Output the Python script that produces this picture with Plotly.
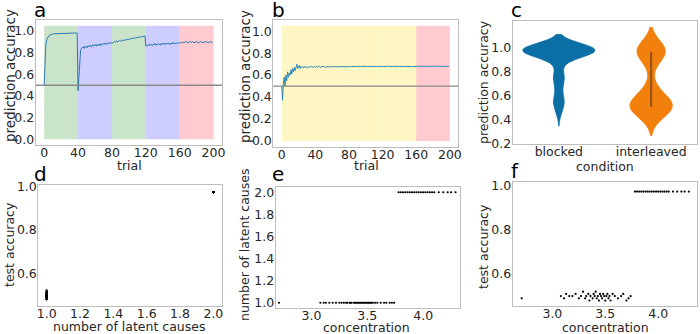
import plotly.graph_objects as go
import numpy as np

# ---------------- data ----------------
trials = list(range(200))

acc_blocked_curve = [
    0.50, 0.80, 0.88, 0.92, 0.94, 0.95, 0.96, 0.965, 0.97, 0.97,
    0.972, 0.975, 0.975, 0.976, 0.977, 0.977, 0.978, 0.978, 0.978, 0.979,
    0.979, 0.979, 0.98, 0.98, 0.98, 0.98, 0.98, 0.98, 0.98, 0.981,
    0.981, 0.981, 0.981, 0.981, 0.982, 0.982, 0.982, 0.982, 0.982, 0.982,
    0.45, 0.62, 0.76, 0.82, 0.84, 0.85, 0.855, 0.84, 0.86, 0.85,
    0.86, 0.845, 0.865, 0.855, 0.87, 0.86, 0.855, 0.875, 0.86, 0.87,
    0.865, 0.88, 0.86, 0.875, 0.87, 0.88, 0.865, 0.885, 0.875, 0.87,
    0.885, 0.88, 0.89, 0.875, 0.885, 0.89, 0.88, 0.895, 0.885, 0.89,
    0.895, 0.89, 0.90, 0.905, 0.895, 0.905, 0.91, 0.90, 0.91, 0.915,
    0.905, 0.915, 0.92, 0.91, 0.915, 0.92, 0.915, 0.92, 0.925, 0.92,
    0.925, 0.93, 0.925, 0.93, 0.935, 0.93, 0.935, 0.94, 0.935, 0.94,
    0.94, 0.945, 0.94, 0.945, 0.95, 0.945, 0.95, 0.95, 0.955, 0.955,
    0.86, 0.865, 0.87, 0.875, 0.865, 0.88, 0.87, 0.875, 0.865, 0.88,
    0.875, 0.885, 0.87, 0.88, 0.875, 0.885, 0.88, 0.87, 0.885, 0.875,
    0.89, 0.88, 0.885, 0.875, 0.89, 0.88, 0.885, 0.89, 0.875, 0.885,
    0.89, 0.88, 0.895, 0.885, 0.89, 0.88, 0.89, 0.885, 0.895, 0.89,
    0.885, 0.895, 0.89, 0.90, 0.895, 0.89, 0.90, 0.905, 0.895, 0.90,
    0.89, 0.895, 0.905, 0.90, 0.895, 0.905, 0.895, 0.89, 0.90, 0.895,
    0.905, 0.90, 0.89, 0.895, 0.90, 0.905, 0.895, 0.90, 0.89, 0.90,
    0.895, 0.905, 0.90, 0.895, 0.89, 0.90, 0.905, 0.895, 0.90, 0.895,
]

acc_interleaved_curve = [
    0.50, 0.37, 0.52, 0.58, 0.50, 0.60, 0.55, 0.63, 0.58, 0.62,
    0.60, 0.65, 0.61, 0.66, 0.63, 0.67, 0.64, 0.68, 0.70, 0.66,
    0.67, 0.69, 0.66, 0.68, 0.67, 0.675, 0.665, 0.68, 0.67, 0.675,
    0.668, 0.678, 0.67, 0.675, 0.672, 0.68, 0.672, 0.676, 0.67, 0.678,
    0.674, 0.679, 0.672, 0.677, 0.675, 0.68, 0.673, 0.678, 0.675, 0.679,
    0.674, 0.677, 0.672, 0.678, 0.676, 0.68, 0.674, 0.677, 0.675, 0.679,
    0.676, 0.678, 0.674, 0.679, 0.676, 0.68, 0.675, 0.678, 0.676, 0.679,
    0.675, 0.678, 0.677, 0.68, 0.675, 0.679, 0.677, 0.678, 0.676, 0.68,
    0.677, 0.679, 0.676, 0.68, 0.677, 0.679, 0.678, 0.681, 0.677, 0.679,
    0.678, 0.68, 0.677, 0.681, 0.678, 0.68, 0.679, 0.682, 0.678, 0.68,
    0.679, 0.681, 0.678, 0.68, 0.679, 0.682, 0.678, 0.681, 0.679, 0.68,
    0.678, 0.681, 0.679, 0.68, 0.678, 0.682, 0.679, 0.68, 0.678, 0.681,
    0.679, 0.68, 0.678, 0.681, 0.679, 0.682, 0.678, 0.68, 0.679, 0.681,
    0.678, 0.68, 0.679, 0.681, 0.678, 0.68, 0.679, 0.682, 0.678, 0.681,
    0.679, 0.68, 0.678, 0.681, 0.679, 0.68, 0.678, 0.681, 0.679, 0.68,
    0.678, 0.681, 0.679, 0.68, 0.678, 0.682, 0.679, 0.68, 0.678, 0.681,
    0.679, 0.683, 0.678, 0.681, 0.679, 0.682, 0.678, 0.681, 0.679, 0.683,
    0.678, 0.681, 0.68, 0.682, 0.679, 0.683, 0.68, 0.681, 0.679, 0.682,
    0.68, 0.683, 0.679, 0.681, 0.68, 0.682, 0.679, 0.683, 0.68, 0.681,
    0.679, 0.682, 0.68, 0.681, 0.679, 0.682, 0.68, 0.681, 0.679, 0.68,
]

block_edges = [0, 40, 80, 120, 160, 200]
block_colors_a = ["green", "blue", "green", "blue", "red"]
block_colors_b = ["yellow", "yellow", "yellow", "yellow", "red"]
span_top = 1.05
chance_level = 0.5

conditions = ["blocked", "interleaved"]
final_acc_blocked = [
    1.0, 1.0, 1.0, 1.0, 1.0, 1.0, 1.0, 1.0, 0.99, 0.99, 0.99, 0.99,
    0.98, 0.98, 0.98, 0.98, 0.98, 0.97, 0.97, 0.97, 0.97, 0.96, 0.96,
    0.96, 0.95, 0.95, 0.94, 0.93, 0.86, 0.80, 0.76, 0.74, 0.72,
    0.66, 0.60, 0.56, 0.54, 0.52, 0.46,
]
final_acc_interleaved = [
    1.0, 1.0, 1.0, 1.0, 0.99, 0.99, 0.98, 0.98, 0.97, 0.97, 0.96,
    0.95, 0.93, 0.90, 0.87, 0.70, 0.65, 0.62, 0.60, 0.58, 0.57, 0.56,
    0.55, 0.54, 0.53, 0.53, 0.52, 0.52, 0.51, 0.51, 0.50, 0.50, 0.50,
    0.49, 0.49, 0.48, 0.47, 0.46, 0.45, 0.44,
]

concentration = [
    2.71,
    3.08, 3.11, 3.13, 3.16, 3.19, 3.22, 3.25, 3.27, 3.29, 3.31,
    3.32, 3.34, 3.35, 3.36, 3.38, 3.39, 3.40, 3.41, 3.42, 3.43,
    3.44, 3.45, 3.46, 3.47, 3.48, 3.49, 3.50, 3.51, 3.52, 3.53,
    3.54, 3.55, 3.57, 3.59, 3.62, 3.65, 3.67, 3.70, 3.72, 3.74,
    3.78, 3.80, 3.82, 3.84, 3.86, 3.88, 3.90, 3.92, 3.94, 3.96,
    3.98, 4.00, 4.02, 4.04, 4.06, 4.08, 4.10, 4.14, 4.18, 4.22,
    4.25, 4.29,
]
latent_causes = [
    1,
    1, 1, 1, 1, 1, 1, 1, 1, 1, 1,
    1, 1, 1, 1, 1, 1, 1, 1, 1, 1,
    1, 1, 1, 1, 1, 1, 1, 1, 1, 1,
    1, 1, 1, 1, 1, 1, 1, 1, 1, 1,
    2, 2, 2, 2, 2, 2, 2, 2, 2, 2,
    2, 2, 2, 2, 2, 2, 2, 2, 2, 2,
    2, 2,
]
test_accuracy = [
    0.49,
    0.50, 0.49, 0.51, 0.50, 0.50, 0.51, 0.49, 0.50, 0.52, 0.49,
    0.50, 0.51, 0.48, 0.50, 0.49, 0.51, 0.50, 0.52, 0.49, 0.50,
    0.48, 0.51, 0.50, 0.49, 0.51, 0.50, 0.48, 0.50, 0.51, 0.49,
    0.50, 0.48, 0.51, 0.50, 0.49, 0.50, 0.51, 0.48, 0.49, 0.50,
    0.975, 0.975, 0.975, 0.975, 0.975, 0.975, 0.975, 0.975, 0.975, 0.975,
    0.975, 0.975, 0.975, 0.975, 0.975, 0.975, 0.975, 0.975, 0.975, 0.975,
    0.975, 0.975,
]

# ---------------- style ----------------
W, H = 700, 334
FONT = "DejaVu Sans"
TXT = "#262626"
SPAN_RGBA = {
    "green": "rgba(0,128,0,0.21)",
    "blue": "rgba(20,20,255,0.21)",
    "red": "rgba(255,20,40,0.22)",
    "yellow": "rgba(255,225,60,0.30)",
}
LINE_COLS = ["#2f78b4", "#2a88b8"]
VIOLIN_COLS = ["#0b6fa6", "#f2800c"]


def px_dom_x(a, b):
    return [a / W, b / W]


def px_dom_y(top, bottom):
    return [1 - bottom / H, 1 - top / H]


fig = go.Figure()

fig.add_trace(go.Scatter(x=trials, y=acc_blocked_curve, mode="lines",
                         line=dict(color=LINE_COLS[0], width=1), xaxis="x", yaxis="y",
                         showlegend=False))
fig.add_trace(go.Scatter(x=trials, y=acc_interleaved_curve, mode="lines",
                         line=dict(color=LINE_COLS[1], width=1), xaxis="x2", yaxis="y2",
                         showlegend=False))

for i, (cond, vals, w, bw) in enumerate(zip(conditions,
                                            [final_acc_blocked, final_acc_interleaved],
                                            [0.78, 0.46], [0.055, 0.085])):
    fig.add_trace(go.Violin(
        x=[cond] * len(vals), y=vals, name=cond, xaxis="x3", yaxis="y3",
        fillcolor=VIOLIN_COLS[i], line=dict(color=VIOLIN_COLS[i], width=0.8),
        opacity=1, points=False, box_visible=False, meanline_visible=False,
        bandwidth=bw, width=w, scalemode="width",
        spanmode="soft", showlegend=False, hoverinfo="skip"))
q1, q3 = np.percentile(final_acc_interleaved, [25, 75])
fig.add_trace(go.Scatter(x=[conditions[1], conditions[1]], y=[q1, q3], mode="lines",
                         line=dict(color="#9a531a", width=2.2), xaxis="x3", yaxis="y3",
                         showlegend=False))

mk = dict(color="black", size=2.2)
fig.add_trace(go.Scatter(x=latent_causes, y=test_accuracy, mode="markers", marker=mk,
                         xaxis="x4", yaxis="y4", showlegend=False))
fig.add_trace(go.Scatter(x=concentration, y=latent_causes, mode="markers", marker=mk,
                         xaxis="x5", yaxis="y5", showlegend=False))
fig.add_trace(go.Scatter(x=concentration, y=test_accuracy, mode="markers", marker=mk,
                         xaxis="x6", yaxis="y6", showlegend=False))

shapes = []
for ax, cols in (("", block_colors_a), ("2", block_colors_b)):
    for x0, x1, c in zip(block_edges[:-1], block_edges[1:], cols):
        shapes.append(dict(type="rect", xref="x" + ax, yref="y" + ax, x0=x0, x1=x1,
                           y0=0, y1=span_top, fillcolor=SPAN_RGBA[c], line=dict(width=0),
                           layer="below"))
    shapes.append(dict(type="line", xref="x" + ax + " domain", yref="y" + ax, x0=0, x1=1,
                       y0=chance_level, y1=chance_level,
                       line=dict(color="#8a8a8a", width=1.4)))

TICK_FONT = dict(family=FONT, size=12.5, color=TXT)
axis_common = dict(showline=True, linecolor="#bdbdbd", linewidth=1, mirror=True,
                   showgrid=False, zeroline=False, ticks="", ticklen=0, automargin=False,
                   tickfont=TICK_FONT)

doms = {
    "": (px_dom_x(35.7, 222), px_dom_y(20, 145)),
    "2": (px_dom_x(273.3, 458.3), px_dom_y(20, 146.7)),
    "3": (px_dom_x(512.7, 697.3), px_dom_y(20.7, 144)),
    "4": (px_dom_x(38.3, 221.7), px_dom_y(185, 305.7)),
    "5": (px_dom_x(275.7, 460), px_dom_y(186.7, 308.3)),
    "6": (px_dom_x(512.7, 697.3), px_dom_y(181.7, 306)),
}

xcfg = {
    "": dict(range=[-10, 210], tickvals=[0, 40, 80, 120, 160, 200]),
    "2": dict(range=[-10, 210], tickvals=[0, 40, 80, 120, 160, 200]),
    "3": dict(range=[-0.5, 1.5], type="category"),
    "4": dict(range=[0.95, 2.05], tickvals=[1.0, 1.2, 1.4, 1.6, 1.8, 2.0], tickformat=".1f"),
    "5": dict(range=[2.68, 4.33], tickvals=[3.0, 3.5, 4.0], tickformat=".1f"),
    "6": dict(range=[2.625, 4.37], tickvals=[3.0, 3.5, 4.0], tickformat=".1f"),
}
ycfg = {
    "": dict(range=[-0.0525, 1.1025], tickvals=[0, 0.2, 0.4, 0.6, 0.8, 1.0], tickformat=".1f"),
    "2": dict(range=[-0.0525, 1.1025], tickvals=[0, 0.2, 0.4, 0.6, 0.8, 1.0], tickformat=".1f"),
    "3": dict(range=[0.2, 1.225], tickvals=[0.2, 0.4, 0.6, 0.8, 1.0], tickformat=".1f"),
    "4": dict(range=[0.45, 1.008], tickvals=[0.6, 0.8, 1.0], tickformat=".1f"),
    "5": dict(range=[0.95, 2.05], tickvals=[1.0, 1.2, 1.4, 1.6, 1.8, 2.0], tickformat=".1f"),
    "6": dict(range=[0.455, 1.02], tickvals=[0.6, 0.8, 1.0], tickformat=".1f"),
}

layout_axes = {}
for k, (dx, dy) in doms.items():
    layout_axes["xaxis" + k] = dict(axis_common, domain=dx, anchor="y" + k,
                                    ticklabelstandoff=-4, **xcfg[k])
    layout_axes["yaxis" + k] = dict(axis_common, domain=dy, anchor="x" + k,
                                    ticklabelstandoff=-2, **ycfg[k])

# axis titles (text, centre x px, centre y px, angle, size)
axis_titles = [
    ("trial", 129, 165, 0, 12.5),
    ("trial", 367, 165, 0, 12.5),
    ("condition", 605, 166, 0, 12.5),
    ("number of latent causes", 129, 326, 0, 12.5),
    ("concentration", 367, 327, 0, 12.5),
    ("concentration", 605, 327, 0, 12.5),
    ("prediction accuracy", 10, 76, -90, 13.5),
    ("prediction accuracy", 245, 76, -90, 13.5),
    ("prediction accuracy", 483, 82, -90, 12.5),
    ("test accuracy", 10, 245, -90, 12.5),
    ("number of latent causes", 245, 245, -90, 12.5),
    ("test accuracy", 483, 246, -90, 12.5),
]
letters = [("a", 32, 24), ("b", 270, 24), ("c", 509, 24),
           ("d", 32, 188), ("e", 270, 188), ("f", 509, 185)]

annotations = [dict(text=t, x=cx / W, y=1 - cy / H, xref="paper", yref="paper",
                    xanchor="center", yanchor="middle", textangle=ang, showarrow=False,
                    font=dict(family=FONT, size=sz, color=TXT))
               for t, cx, cy, ang, sz in axis_titles]
annotations += [dict(text=t, x=x / W, y=1 - yb / H, xref="paper", yref="paper",
                     xanchor="left", yanchor="bottom", showarrow=False,
                     font=dict(family=FONT, size=20, color="black"))
                for t, x, yb in letters]

fig.update_layout(template="none", width=W, height=H,
                  margin=dict(l=0, r=0, t=0, b=0, pad=0, autoexpand=False),
                  paper_bgcolor="white", plot_bgcolor="white",
                  font=dict(family=FONT, color=TXT),
                  shapes=shapes, annotations=annotations, violinmode="overlay",
                  **layout_axes)

fig.write_html("out.html", config={"displayModeBar": False},
               post_script="document.body.style.margin='0px';")
